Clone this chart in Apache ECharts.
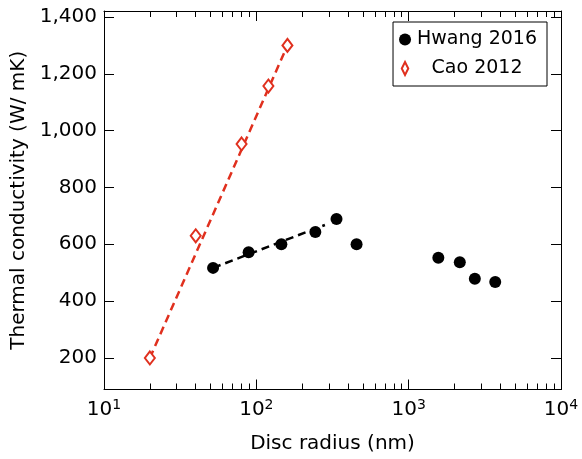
<!DOCTYPE html>
<html>
<head>
<meta charset="utf-8">
<script src="https://cdn.jsdelivr.net/npm/echarts@6/dist/echarts.min.js"></script>
<style>
  html, body { margin: 0; padding: 0; background: #fff; }
  #chart { width: 582px; height: 459px; }
</style>
</head>
<body>
<div id="chart"></div>
<script>
// data
const hwangX = [52, 89, 146, 244, 336, 455, 1566, 2166, 2719, 3700];
const hwangY = [517, 572, 600, 643, 689, 600, 553, 537, 479, 467];
const caoX = [20, 40, 80, 120, 160];
const caoY = [200, 630, 953, 1157, 1300];
// dashed fit lines
const hwangFitX = [52, 282];
const hwangFitY = [517, 668];
const caoFitX = [20, 160];
const caoFitY = [200, 1300];
// ticks
const yTicks = [200, 400, 600, 800, 1000, 1200, 1400];
const xMinorTicks = [20, 30, 40, 50, 60, 70, 80, 90,
  200, 300, 400, 500, 600, 700, 800, 900,
  2000, 3000, 4000, 5000, 6000, 7000, 8000, 9000];

const FONT = 'DejaVu Sans';
const RED = '#e0301e';

function pairs(xs, ys) {
  return xs.map((x, i) => [x, ys[i]]);
}

function fmtThousands(v) {
  return String(v).replace(/\B(?=(\d{3})+(?!\d))/g, ',');
}

const chart = echarts.init(document.getElementById('chart'));

// shared bits for x axes
const xBase = { type: 'log', logBase: 10, min: 10, max: 10000, gridIndex: 0,
  splitLine: { show: false } };
const lineBlack = { show: true, lineStyle: { color: '#000', width: 1 } };

chart.setOption({
  animation: false,
  grid: { left: 104, top: 11, right: 21, bottom: 69.5 },
  xAxis: [
    // bottom major
    Object.assign({}, xBase, {
      position: 'bottom',
      name: 'Disc radius (nm)',
      nameLocation: 'middle',
      nameGap: 44,
      nameTextStyle: { fontFamily: FONT, fontSize: 20, color: '#000' },
      axisLine: lineBlack,
      axisTick: { inside: true, length: 10, lineStyle: { color: '#000' } },
      axisLabel: {
        margin: 9,
        fontFamily: FONT,
        color: '#000',
        formatter: v => '{b|10}{s|' + Math.round(Math.log10(v)) + '}',
        rich: {
          b: { fontFamily: FONT, fontSize: 20, color: '#000' },
          s: { fontFamily: FONT, fontSize: 14, color: '#000', padding: [0, 0, 8, 0] }
        }
      }
    }),
    // bottom minor
    Object.assign({}, xBase, {
      position: 'bottom',
      axisLine: { show: false },
      axisLabel: { show: false },
      axisTick: { inside: true, length: 6, customValues: xMinorTicks, lineStyle: { color: '#000' } }
    }),
    // top major
    Object.assign({}, xBase, {
      position: 'top',
      axisLine: lineBlack,
      axisLabel: { show: false },
      axisTick: { inside: true, length: 10, lineStyle: { color: '#000' } }
    }),
    // top minor
    Object.assign({}, xBase, {
      position: 'top',
      axisLine: { show: false },
      axisLabel: { show: false },
      axisTick: { inside: true, length: 6, customValues: xMinorTicks, lineStyle: { color: '#000' } }
    })
  ],
  yAxis: [
    {
      type: 'value',
      min: 89,
      max: 1421,
      position: 'left',
      name: 'Thermal conductivity (W/ mK)',
      nameLocation: 'middle',
      nameGap: 70,
      nameTextStyle: { fontFamily: FONT, fontSize: 20, color: '#000' },
      splitLine: { show: false },
      axisLine: lineBlack,
      axisTick: { inside: true, length: 10, customValues: yTicks, lineStyle: { color: '#000' } },
      axisLabel: {
        margin: 7,
        customValues: yTicks,
        fontFamily: FONT,
        fontSize: 20,
        color: '#000',
        formatter: v => fmtThousands(v)
      }
    },
    {
      type: 'value',
      min: 89,
      max: 1421,
      position: 'right',
      splitLine: { show: false },
      axisLine: lineBlack,
      axisTick: { inside: true, length: 10, customValues: yTicks, lineStyle: { color: '#000' } },
      axisLabel: { show: false }
    }
  ],
  legend: {
    orient: 'vertical',
    right: 35,
    top: 22,
    data: [
      { name: 'Hwang 2016', icon: 'circle' },
      // tall hollow diamond
      {
        name: 'Cao 2012',
        icon: 'path://M5,0 L10,10 L5,20 L0,10 Z',
        itemStyle: { color: '#fff', borderColor: RED, borderWidth: 2 }
      }
    ],
    backgroundColor: '#fff',
    borderColor: '#000',
    borderWidth: 1,
    borderRadius: 0,
    padding: [8, 10, 8, 6],
    itemGap: 10,
    itemWidth: 12,
    itemHeight: 13,
    formatter: name => '{c|' + name + '}',
    textStyle: {
      fontFamily: FONT,
      fontSize: 19,
      color: '#000',
      rich: { c: { width: 122, align: 'center', fontFamily: FONT, fontSize: 19, color: '#000' } }
    }
  },
  series: [
    {
      name: 'caoFit',
      type: 'line',
      data: pairs(caoFitX, caoFitY),
      showSymbol: false,
      silent: true,
      lineStyle: { color: RED, width: 2.5, type: [8, 5] },
      z: 1
    },
    {
      name: 'hwangFit',
      type: 'line',
      data: pairs(hwangFitX, hwangFitY),
      showSymbol: false,
      silent: true,
      lineStyle: { color: '#000', width: 2.5, type: [8, 5] },
      z: 1
    },
    {
      name: 'Hwang 2016',
      type: 'scatter',
      data: pairs(hwangX, hwangY),
      symbol: 'circle',
      symbolSize: 12,
      itemStyle: { color: '#000', opacity: 1 },
      z: 3
    },
    {
      name: 'Cao 2012',
      type: 'scatter',
      data: pairs(caoX, caoY),
      symbol: 'emptyDiamond',
      symbolSize: [10, 13],
      itemStyle: { color: RED, borderColor: RED, borderWidth: 2, opacity: 1 },
      z: 3
    }
  ]
});
</script>
</body>
</html>
